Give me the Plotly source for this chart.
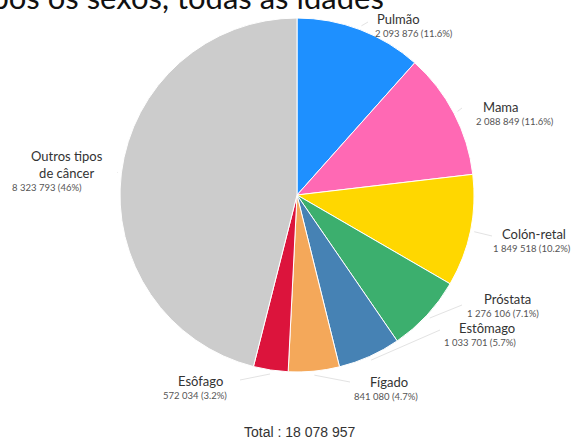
import math
import plotly.graph_objects as go

W, H = 574, 439

names = ["Pulmão", "Mama", "Colón-retal", "Próstata", "Estômago", "Fígado", "Esôfago", "Outros tipos<br>de câncer"]
values = [2093876, 2088849, 1849518, 1276106, 1033701, 841080, 572034, 8323793]
value_labels = ["2 093 876 (11.6%)", "2 088 849 (11.6%)", "1 849 518 (10.2%)", "1 276 106 (7.1%)",
                "1 033 701 (5.7%)", "841 080 (4.7%)", "572 034 (3.2%)", "8 323 793 (46%)"]
colors = ["#1E90FF", "#FF69B4", "#FFD700", "#3CAF6E", "#4682B4", "#F4A85A", "#DC143C", "#CCCCCC"]
total_label = "Total : 18 078 957"
title_text = "Ambos os sexos, todas as idades"

# pie placement (pixels)
CX, CY, R = 297, 195, 177

def px(x):
    return x / W

def py(y):
    return 1 - y / H

fig = go.Figure()
fig.add_trace(go.Pie(
    labels=[n.replace("<br>", " ") for n in names],
    values=values,
    sort=False,
    direction="clockwise",
    rotation=0,
    marker=dict(colors=colors, line=dict(color="white", width=1)),
    textinfo="none",
    hoverinfo="label+value+percent",
    domain=dict(x=[px(CX - R), px(CX + R)], y=[py(CY + R), py(CY - R)]),
    showlegend=False,
))

label_pos = [(398, 19), (501, 107), (534, 234), (508, 299), (487, 328), (389, 382), (200, 381), (67, 164)]
value_pos = [(414, 33), (515, 121), (532, 248), (503, 313), (480, 342), (386, 396), (195, 395), (47, 187)]

annotations = []
for i, n in enumerate(names):
    lx, ly = label_pos[i]
    vx, vy = value_pos[i]
    annotations.append(dict(x=px(lx), y=py(ly), xref="paper", yref="paper", text=n, showarrow=False,
                            font=dict(family="Lato", size=13, color="#333333"), xanchor="center", yanchor="middle"))
    annotations.append(dict(x=px(vx), y=py(vy), xref="paper", yref="paper", text=value_labels[i], showarrow=False,
                            font=dict(family="Lato", size=9.5, color="#555555"), xanchor="center", yanchor="middle"))

annotations.append(dict(x=px(300), y=py(432), xref="paper", yref="paper", text=total_label, showarrow=False,
                        font=dict(family="Liberation Sans", size=14, color="#333333"), xanchor="center", yanchor="middle"))
annotations.append(dict(x=px(386), y=py(18), xref="paper", yref="paper", text=title_text, showarrow=False,
                        font=dict(family="Lato", size=31, color="#111111"), xanchor="right", yanchor="bottom"))

shapes = []
tot = sum(values)
cum = 0
ends = [(368, 22), (462, 108), (492, 236), (462, 305), (440, 330), (350, 382), (240, 380), (118, 172)]
for i, v in enumerate(values):
    mid = (cum + v / 2) / tot * 2 * math.pi
    cum += v
    sx = CX + (R + 4) * math.sin(mid)
    sy = CY - (R + 4) * math.cos(mid)
    ex, ey = ends[i]
    shapes.append(dict(type="line", xref="paper", yref="paper", x0=px(sx), y0=py(sy), x1=px(ex), y1=py(ey),
                       line=dict(color="#E3E3E3", width=1)))

fig.update_layout(
    width=W, height=H,
    margin=dict(l=0, r=0, t=0, b=0),
    paper_bgcolor="white",
    plot_bgcolor="white",
    annotations=annotations,
    shapes=shapes,
)

fig.write_html("out.html")
